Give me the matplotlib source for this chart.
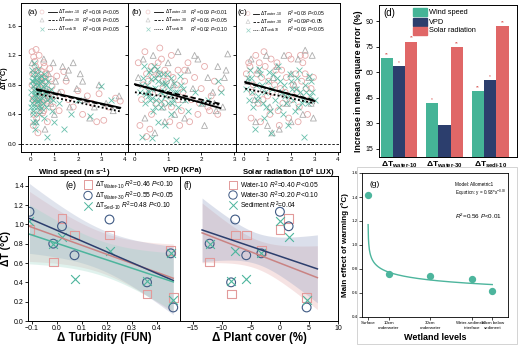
import numpy as np
import matplotlib
matplotlib.use('Agg')
import matplotlib.pyplot as plt
from matplotlib.patches import Rectangle

plt.rcParams['font.family'] = ['Liberation Sans', 'DejaVu Sans']
plt.rcParams['mathtext.fontset'] = 'custom'
plt.rcParams['mathtext.rm'] = 'Liberation Sans'
plt.rcParams['mathtext.it'] = 'Liberation Sans:italic'
plt.rcParams['mathtext.bf'] = 'Liberation Sans:bold'
plt.rcParams['axes.linewidth'] = 0.7

# ---------------- data: panels (a)-(c) scatter ----------------
a_w10_x = [0.05,0.08,0.12,0.15,0.2,0.25,0.3,0.35,0.4,0.45,0.5,0.55,0.6,0.7,0.8,0.9,1.0,1.1,1.2,1.3,1.5,1.6,1.8,2.0,2.2,2.4,2.6,2.9,3.1,3.3,3.6,3.8,0.1,0.3,0.5,0.7,0.22,0.62,1.4,2.8,
           0.05,0.1,0.15,0.2,0.25,0.3,0.35,0.4,0.45,0.5,0.55,0.6,0.65,0.75,0.85,0.95,0.18,0.28,0.38,0.48,0.58,0.68,0.12,0.32]
a_w10_y = [1.25,0.95,1.18,0.62,1.05,0.35,0.88,1.2,0.5,0.98,0.72,1.1,0.85,0.55,1.02,0.78,0.65,0.92,0.45,0.7,0.85,0.6,0.5,0.72,0.4,0.65,0.55,0.68,0.32,0.5,0.62,0.58,0.25,0.15,0.42,0.3,1.28,0.95,0.98,0.3,
           0.8,0.6,0.95,0.75,0.55,1.0,0.65,0.85,0.7,0.9,0.45,0.6,0.95,0.7,0.88,0.5,1.12,0.78,0.62,0.82,1.05,0.58,0.4,0.55]
a_w30_x = [0.05,0.15,0.25,0.35,0.45,0.55,0.65,0.75,0.85,0.95,1.05,1.2,1.35,1.5,1.65,1.8,1.95,2.1,2.3,2.5,2.7,2.9,3.2,3.5,3.75,0.2,0.4,0.6,0.8,1.0,1.6,2.2]
a_w30_y = [1.1,0.8,1.0,0.6,0.9,1.15,0.75,0.95,0.55,1.1,0.85,0.7,1.05,0.9,0.5,1.1,0.75,0.95,0.6,0.35,0.5,0.8,0.55,0.45,0.65,0.3,0.45,0.2,0.65,0.4,1.0,0.85]
a_s10_x = [0.02,0.05,0.08,0.1,0.12,0.15,0.18,0.2,0.22,0.25,0.28,0.3,0.33,0.35,0.4,0.45,0.5,0.55,0.6,0.65,0.7,0.8,0.9,1.0,1.2,1.4,1.7,2.0,2.5,3.0,3.4,0.03,0.07,0.13,0.17,0.24,0.32,0.38,0.42,0.48,0.04,0.09,0.14,0.19,0.27,0.36,0.44,0.52,0.58,0.75,
           0.06,0.11,0.16,0.21,0.26,0.31,0.37,0.43,0.47,0.53,0.57,0.63,0.68,0.72,0.85,0.95,0.02,0.09]
a_s10_y = [0.7,0.55,0.85,0.45,0.9,0.6,0.75,0.3,0.65,0.95,0.5,0.8,0.4,0.7,0.6,0.85,0.55,0.35,0.7,0.5,0.1,0.62,0.45,0.3,0.55,0.2,0.4,0.6,0.38,0.78,0.6,1.0,0.4,1.1,0.2,0.58,1.02,0.52,0.75,0.62,0.62,0.78,0.5,0.68,0.82,0.9,0.48,0.78,0.88,0.72,
           0.85,0.95,0.72,0.88,0.68,0.58,0.82,0.92,0.72,0.66,0.95,0.8,0.6,0.85,0.75,0.6,0.5,0.3]

b_w10_x = [0.1,0.2,0.3,0.4,0.5,0.6,0.7,0.8,0.9,1.0,1.1,1.2,1.3,1.4,1.5,1.6,1.7,1.8,1.9,2.0,2.1,2.2,2.3,2.4,2.5,2.6,0.15,0.45,0.75,1.05,1.35,1.65,1.95,2.25,0.35,0.85,
           0.25,0.35,0.45,0.55,0.65,0.75,0.85,0.95,1.05,1.15,1.25,1.45,0.5,0.7,0.9,1.1,1.3,1.5]
b_w10_y = [1.1,0.6,1.25,0.85,0.4,1.0,0.7,1.15,0.55,0.95,1.2,0.65,1.0,0.45,0.85,1.1,0.6,0.9,0.4,0.75,1.05,0.5,0.65,0.85,0.4,0.75,0.25,0.2,1.3,0.3,0.25,0.3,0.55,0.45,0.1,0.85,
           0.8,0.95,0.7,0.9,0.55,0.95,0.75,0.85,0.65,0.9,0.8,0.7,1.05,1.1,1.0,0.5,0.6,1.0]
b_w30_x = [0.1,0.25,0.4,0.55,0.7,0.85,1.0,1.15,1.3,1.45,1.6,1.75,1.9,2.05,2.2,2.35,2.5,2.65,2.8,0.3,0.6,0.9,1.2,1.5,1.8,2.1,2.4,2.7,2.45,2.75]
b_w30_y = [0.9,1.15,0.7,1.2,0.95,0.5,1.1,0.8,1.25,0.6,1.0,0.75,1.15,0.55,0.9,0.7,1.05,0.5,1.22,0.35,0.15,0.3,0.4,0.35,1.2,0.25,0.55,0.9,0.45,1.0]
b_s10_x = [0.15,0.25,0.3,0.35,0.4,0.45,0.5,0.55,0.6,0.65,0.7,0.75,0.8,0.85,0.9,0.95,1.0,1.05,1.1,1.15,1.2,1.3,1.4,1.5,1.6,1.8,2.0,2.2,2.5,2.6,0.2,0.5,0.7,0.9,1.1,1.25,0.32,0.48,0.62,0.78,0.92,1.08,0.42,0.68,
           0.22,0.38,0.52,0.58,0.72,0.82,0.88,0.98,1.12,1.18,1.28,1.35,1.45,0.28,0.45,0.62]
b_s10_y = [0.7,0.9,0.55,0.8,0.65,1.0,0.75,0.45,0.9,0.6,0.85,0.7,0.5,0.95,0.65,0.8,0.55,0.75,0.9,0.6,0.7,0.5,0.8,0.6,0.45,0.7,0.55,0.6,0.85,0.7,0.1,0.08,0.3,0.25,0.4,0.05,0.68,0.88,0.76,0.58,0.82,0.66,0.98,1.02,
           0.8,0.72,0.62,1.05,0.95,0.82,0.72,0.95,0.55,0.82,0.7,0.92,0.75,1.05,0.6,0.5]

c_w10_x = [0.1,0.2,0.35,0.5,0.6,0.75,0.9,1.0,1.15,1.3,1.45,1.6,1.75,1.9,2.05,2.2,2.35,2.5,2.65,2.8,2.95,0.3,0.7,1.1,1.5,1.9,2.3,2.7,0.25,0.85,1.4,2.0,2.6,
           0.4,0.55,0.8,1.05,1.2,1.35,1.55,1.8,2.1,2.25,2.45,2.6,2.85,0.65,1.65,2.4]
c_w10_y = [0.95,1.1,0.7,1.2,0.55,0.9,1.05,0.65,1.15,0.8,0.45,1.0,0.7,1.2,0.6,0.95,0.5,1.1,0.75,0.6,0.9,0.35,0.3,0.4,0.25,0.35,0.3,0.4,1.05,1.25,1.1,1.15,1.2,
           0.8,0.95,0.6,0.85,0.7,1.0,0.75,0.9,0.8,0.7,0.85,0.95,0.75,1.1,0.55,1.2]
c_w30_x = [0.15,0.3,0.45,0.6,0.8,0.95,1.1,1.25,1.4,1.55,1.7,1.85,2.0,2.15,2.3,2.45,2.6,2.75,2.9,0.5,1.0,1.5,2.0,2.5,2.85,2.95,1.2]
c_w30_y = [0.85,1.15,0.6,1.0,0.75,1.2,0.5,0.9,1.05,0.7,1.2,0.55,0.95,0.8,1.15,0.65,1.27,0.9,1.2,0.3,0.25,0.2,0.3,0.4,0.55,0.35,0.15]
c_s10_x = [0.1,0.2,0.3,0.4,0.5,0.6,0.7,0.8,0.9,1.0,1.1,1.2,1.3,1.4,1.5,1.6,1.7,1.8,1.9,2.0,2.1,2.2,2.3,2.4,2.5,2.6,2.7,2.8,2.9,3.0,0.45,1.15,1.85,2.55,0.25,0.65,1.05,1.45,1.95,2.35,2.75,
           0.15,0.35,0.55,0.75,0.95,1.25,1.55,1.75,2.05,2.25,2.45,2.65,2.85,0.85,1.65,2.15]
c_s10_y = [0.75,0.6,0.9,0.5,0.8,0.65,0.95,0.55,0.7,0.85,0.45,0.75,0.6,0.9,0.5,0.7,0.8,0.55,0.65,0.85,0.6,0.75,0.5,0.7,0.6,0.8,0.55,0.65,0.7,0.6,0.2,0.15,0.25,0.1,1.0,1.02,0.98,1.05,0.95,1.0,0.92,
           0.9,0.7,0.6,0.8,0.5,0.95,0.85,0.65,0.75,0.9,0.55,0.7,0.85,0.35,0.4,0.45]

# fitted lines (slope, intercept) for water-10, water-30, sedi-10 and x-range
a_fit_slope = [-0.0704, -0.0704, -0.0676]
a_fit_icpt = [0.758, 0.748, 0.697]
a_fit_range = [0.25, 3.8]
b_fit_slope = [-0.126, -0.100, -0.066]
b_fit_icpt = [0.81, 0.80, 0.70]
b_fit_range = [0.0, 2.58]
c_fit_slope = [-0.088, -0.081, -0.068]
c_fit_icpt = [0.844, 0.834, 0.753]
c_fit_range = [0.05, 3.0]

a_r2 = ["$R^2$=0.04 $P$<0.05", "$R^2$=0.04 $P$<0.05", "$R^2$=0.04 $P$<0.05"]
b_r2 = ["$R^2$=0.09 $P$<0.01", "$R^2$=0.06 $P$<0.05", "$R^2$=0.02 $P$<0.10"]
c_r2 = ["$R^2$=0.08 $P$<0.05", "$R^2$=0.09$P$<0.05", "$R^2$=0.06 $P$<0.05"]

# ---------------- data: panel (d) ----------------
d_groups = [r"$\mathbf{\Delta T}_{\mathbf{water\text{-}10}}$",
            r"$\mathbf{\Delta T}_{\mathbf{water\text{-}30}}$",
            r"$\mathbf{\Delta T}_{\mathbf{sedi\text{-}10}}$"]
d_wind = [68.5, 42.0, 49.0]
d_vpd = [63.5, 29.0, 55.5]
d_solar = [78.0, 75.0, 87.0]
d_wind_sig = ["**", "*", "**"]
d_vpd_sig = ["*", "", "*"]
d_solar_sig = ["**", "**", "**"]

# ---------------- data: panels (e) and (f) ----------------
turbidity = [-0.11, -0.015, 0.02, 0.07, 0.21, 0.36, 0.455, 0.465]
plant_cover = [0.0, -12.1, 1.5, -5.8, -7.7, -8.4, -3.2, 4.6]
dT_w10 = [0.95, 0.61, 1.06, 0.89, 0.89, 0.28, 0.73, 0.24]
dT_w30 = [1.13, 0.80, 0.98, 0.68, 1.05, 0.40, 0.70, 0.14]
dT_s10 = [1.03, 0.80, 0.87, 0.43, 0.72, 0.41, 0.70, 0.22]
t_crit = 2.447
f_fit_slope = [-0.02335, -0.0203]
f_fit_icpt = [0.599, 0.67]
f_fit_range = [-13.4, 6.45]
f_band_center = [0.15, 0.16]

# ---------------- data: panel (g) ----------------
g_labels = ["Surface", "10cm\nunderwater", "30cm\nunderwater", "Water-sediment\ninterface", "10cm below\nsediment"]
g_depth = [0, 10, 30, 50, 60]
g_effect = [1.42, 0.76, 0.74, 0.72, 0.62]
g_a, g_b = 0.93, -0.08
g_curve_range = [0.057, 60]

# ---------------- colours ----------------
pink = '#e6aaaa'
grey = '#adadad'
teal = '#4db59d'
navy = '#2c3e6d'
red = '#e06767'

W, H = 520, 345
fig = plt.figure(figsize=(5.2, 3.45), dpi=100)


def ax_px(l, t, r, b):
    return fig.add_axes([l / W, 1 - b / H, (r - l) / W, (b - t) / H])


def pxt(ax, dx, dy, wpx, hpx):
    return dx / wpx, 1 - dy / hpx


line_styles = ['-', (0, (3, 1.5)), (0, (1, 1.3))]
mk = ['o', '^', 'x']
mk_col = [pink, grey, teal]
subs = [r"$\Delta$T$_{\mathrm{water}\text{-}10}$", r"$\Delta$T$_{\mathrm{water}\text{-}30}$",
        r"$\Delta$T$_{\mathrm{sedi}\text{-}10}$"]

top_specs = [
    (ax_px(21, 3, 128, 152), 107, (a_w10_x, a_w10_y, a_w30_x, a_w30_y, a_s10_x, a_s10_y),
     a_fit_slope, a_fit_icpt, a_fit_range, a_r2, (-0.42, 4.13), [0, 1, 2, 3, 4], '(a)',
     r"Wind speed (m s$^{\mathbf{-1}}$)", dict(lab=6, mk=21, l0=27, l1=36, t=37, r=61, rows=[9, 17, 26])),
    (ax_px(128, 3, 236, 152), 108, (b_w10_x, b_w10_y, b_w30_x, b_w30_y, b_s10_x, b_s10_y),
     b_fit_slope, b_fit_icpt, b_fit_range, b_r2, (-0.21, 3.05), [0, 1, 2, 3], '(b)',
     "VPD (KPa)", dict(lab=3, mk=20, l0=26, l1=35, t=37, r=62, rows=[9, 17, 26])),
    (ax_px(236, 3, 340, 152), 104, (c_w10_x, c_w10_y, c_w30_x, c_w30_y, c_s10_x, c_s10_y),
     c_fit_slope, c_fit_icpt, c_fit_range, c_r2, (-0.34, 4.08), [0, 1, 2, 3, 4], '(c)',
     r"Solar radiation (10$^{\mathbf{4}}$ LUX)", dict(lab=2, mk=12, l0=17, l1=23, t=24, r=51, rows=[10.5, 18.5, 26.5])),
]

for i, (ax, wpx, pts, sl, ic, rng, r2s, xl, xt, tag, xlabel, lg) in enumerate(top_specs):
    hpx = 149
    for k in range(3):
        xs, ys = pts[2 * k], pts[2 * k + 1]
        if mk[k] == 'x':
            ax.scatter(xs, ys, s=18, marker='x', color=teal, linewidths=0.6, alpha=0.85)
        else:
            ax.scatter(xs, ys, s=18, marker=mk[k], facecolors='none', edgecolors=mk_col[k], linewidths=0.6)
    ax.axhline(0, color='k', ls=(0, (3, 2)), lw=0.6)
    for k in range(3):
        xx = np.linspace(rng[0], rng[1], 20)
        ax.plot(xx, ic[k] + sl[k] * xx, color='k', ls=line_styles[k], lw=1.3)
    ax.set_xlim(*xl)
    ax.set_ylim(-0.11, 1.91)
    ax.set_xticks(xt)
    ax.set_yticks([0, 0.4, 0.8, 1.2, 1.6])
    ax.tick_params(direction='out', length=2.5, width=0.6, labelsize=4.5, pad=1)
    if i == 0:
        ax.set_ylabel("ΔT(°C)", fontsize=5.2, fontweight='bold')
        ax.yaxis.set_label_coords(-13.5 / 107, 0.5)
    else:
        ax.tick_params(labelleft=False)
    ax.set_xlabel(xlabel, fontsize=5.6, fontweight='bold', labelpad=3.5)
    x0, y0 = pxt(ax, lg['lab'], 9, wpx, hpx)
    ax.text(x0, y0, tag, transform=ax.transAxes, fontsize=6, va='center', ha='left')
    for k in range(3):
        dy = lg['rows'][k]
        xm_, ym_ = pxt(ax, lg['mk'], dy, wpx, hpx)
        if mk[k] == 'x':
            ax.scatter([xm_], [ym_], s=8, marker='x', color=teal, linewidths=0.5, transform=ax.transAxes, alpha=0.6)
        else:
            ax.scatter([xm_], [ym_], s=8, marker=mk[k], facecolors='none', edgecolors=mk_col[k],
                       linewidths=0.5, transform=ax.transAxes, alpha=0.6)
        l0, _ = pxt(ax, lg['l0'], dy, wpx, hpx)
        l1, _ = pxt(ax, lg['l1'], dy, wpx, hpx)
        ax.plot([l0, l1], [ym_, ym_], color='k', ls=line_styles[k], lw=0.6, transform=ax.transAxes)
        tx, _ = pxt(ax, lg['t'], dy, wpx, hpx)
        ax.text(tx, ym_, subs[k], transform=ax.transAxes, fontsize=3.6, va='center', ha='left')
        rx, _ = pxt(ax, lg['r'], dy, wpx, hpx)
        ax.text(rx, ym_, r2s[k], transform=ax.transAxes, fontsize=3.6, va='center', ha='left')

# ---------------- panel (d) ----------------
axd = ax_px(379, 5, 517, 157)
bw = 0.27
xg = np.arange(3)
series = [(d_wind, '#45b497', d_wind_sig), (d_vpd, navy, d_vpd_sig), (d_solar, red, d_solar_sig)]
for k, (vals, col, sig) in enumerate(series):
    xs = xg + (k - 1) * bw
    axd.bar(xs, vals, width=bw, color=col, edgecolor='none')
    for xx, v, s in zip(xs, vals, sig):
        if s:
            axd.text(xx, v + 0.6, s, color='#d9534f', fontsize=3.5, ha='center', va='bottom')
axd.set_xlim(-0.44, 2.59)
axd.set_ylim(10.3, 99.4)
axd.set_yticks([15, 30, 45, 60, 75, 90])
axd.set_xticks(xg)
axd.set_xticklabels(d_groups, fontsize=6)
axd.tick_params(axis='x', length=0, pad=2)
axd.tick_params(axis='y', direction='out', length=2.5, width=0.6, labelsize=5, pad=1.5)
axd.set_ylabel("Increase in mean square error (%)", fontsize=6.3, fontweight='bold', labelpad=2)
axd.text(0.03, 0.945, '(d)', transform=axd.transAxes, fontsize=7, va='center')
for k, (lab, col) in enumerate([("Wind speed", '#45b497'), ("VPD", navy), ("Solar radiation", red)]):
    dy = [7, 17, 26][k]
    x0, y0 = pxt(axd, 34, dy, 138, 152)
    axd.add_patch(Rectangle((x0, y0 - 0.028), 14 / 138, 0.056, transform=axd.transAxes, color=col, clip_on=False))
    axd.text(x0 + 16 / 138, y0, lab, transform=axd.transAxes, fontsize=5.3, va='center')

# ---------------- panels (e), (f) ----------------
EB = 321
axe = ax_px(28, 176, 180, EB)
axf = ax_px(180, 176, 338, EB)
EH = EB - 176
e_cols = [('#c98383', '#e7b0b0'), (navy, '#9aa6c6'), (teal, '#9bd6c6')]
ys_all = [dT_w10, dT_w30, dT_s10]
tx = np.array(turbidity)
xx = np.linspace(tx.min(), tx.max(), 60)
n = len(tx)
for k in range(3):
    y = np.array(ys_all[k])
    b1, b0 = np.polyfit(tx, y, 1)
    res = y - (b0 + b1 * tx)
    s = np.sqrt(np.sum(res ** 2) / (n - 2))
    sxx = np.sum((tx - tx.mean()) ** 2)
    hw = t_crit * s * np.sqrt(1 / n + (xx - tx.mean()) ** 2 / sxx)
    yy = b0 + b1 * xx
    axe.fill_between(xx, yy - hw, yy + hw, color=e_cols[k][1], alpha=0.3, lw=0)
for k in range(3):
    y = np.array(ys_all[k])
    b1, b0 = np.polyfit(tx, y, 1)
    axe.plot(xx, b0 + b1 * xx, color=e_cols[k][0], lw=1.1)

pc = np.array(plant_cover)
xf = np.linspace(f_fit_range[0], f_fit_range[1], 60)
sxx_f = np.sum((pc - pc.mean()) ** 2)
for k in range(2):
    yy = f_fit_icpt[k] + f_fit_slope[k] * xf
    hw = f_band_center[k] * np.sqrt(1 + n * (xf - pc.mean()) ** 2 / sxx_f)
    axf.fill_between(xf, yy - hw, yy + hw, color=e_cols[k][1], alpha=0.35, lw=0)
for k in range(2):
    axf.plot(xf, f_fit_icpt[k] + f_fit_slope[k] * xf, color=e_cols[k][0], lw=1.1)

for ax, xv in ((axe, turbidity), (axf, plant_cover)):
    ax.scatter(xv, dT_w10, s=40, marker='s', facecolors='none', edgecolors='#e29a9a', linewidths=0.8)
    ax.scatter(xv, dT_w30, s=40, marker='o', facecolors='none', edgecolors='#3f5a84', linewidths=0.8)
    ax.scatter(xv, dT_s10, s=40, marker='x', color=teal, linewidths=0.8)
    ax.set_ylim(0, 1.5)
    ax.tick_params(direction='out', length=2, width=0.6, labelsize=5, pad=1)

axe.set_xlim(-0.116, 0.492)
axe.set_xticks([-0.1, 0.0, 0.1, 0.2, 0.3, 0.4])
axe.set_yticks([0.0, 0.2, 0.4, 0.6, 0.8, 1.0, 1.2, 1.4])
axe.set_ylabel("ΔT (°C)", fontsize=7.5, fontweight='bold', labelpad=2)
axf.set_xlim(-17.2, 10)
axf.set_xticks([-15, -10, -5, 0, 5, 10])
axf.tick_params(left=False, labelleft=False)
for ax, lab in ((axe, "Δ Turbidity (FUN)"), (axf, "Δ Plant cover (%)")):
    ax.set_xlabel(lab, fontsize=8.3, fontweight='bold')
    ax.xaxis.set_label_coords(0.5, -(338 - EB) / EH)
    ax.xaxis.label.set_va('center')

e_leg = [r"$\Delta$T$_{\mathrm{Water}\text{-}10}$ $R^2$=0.46 $P$<0.10",
         r"$\Delta$T$_{\mathrm{Water}\text{-}30}$ $R^2$=0.55 $P$<0.05",
         r"$\Delta$T$_{\mathrm{Sedi}\text{-}10}$ $R^2$=0.48 $P$<0.10"]
f_leg = [r"Water-10 $R^2$=0.40 $P$<0.05", r"Water-30 $R^2$=0.20 $P$<0.10", r"Sediment $R^2$=0.04"]
leg_mk = [('s', '#e29a9a'), ('o', '#3f5a84'), ('x', teal)]
for ax, wpx, mkx, txx, rows, labs, tag, tagx in ((axe, 152, 60, 67, [8.5, 19.5, 30], e_leg, '(e)', 37),
                                               (axf, 158, 53, 60, [9, 19, 29], f_leg, '(f)', 4)):
    x0, y0 = pxt(ax, tagx, 10, wpx, EH)
    ax.text(x0, y0, tag, transform=ax.transAxes, fontsize=6.5, va='center')
    for k in range(3):
        xm_, ym_ = pxt(ax, mkx, rows[k], wpx, EH)
        m, c = leg_mk[k]
        if m == 'x':
            ax.scatter([xm_], [ym_], s=36, marker='x', color=c, linewidths=0.7, transform=ax.transAxes)
        else:
            ax.scatter([xm_], [ym_], s=36, marker=m, facecolors='none', edgecolors=c, linewidths=0.7,
                       transform=ax.transAxes)
        tx_, _ = pxt(ax, txx, rows[k], wpx, EH)
        ax.text(tx_, ym_, labs[k], transform=ax.transAxes, fontsize=4.8, va='center')

# ---------------- panel (g) ----------------
fig.add_artist(Rectangle((357 / W, 1 / H), 160 / W, 177 / H, transform=fig.transFigure,
                         fill=False, edgecolor='#cccccc', lw=0.6))
axg = ax_px(362, 173, 508, 317)
xc = np.linspace(g_curve_range[0], g_curve_range[1], 400)
axg.plot(xc, g_a * xc ** g_b, color=teal, lw=1.0)
axg.scatter(g_depth, g_effect, s=18, color=teal, zorder=3)
axg.set_xlim(-2.9, 67.6)
axg.set_ylim(0.4, 1.6)
axg.set_xticks(g_depth)
axg.set_xticklabels(g_labels, fontsize=2.6)
axg.set_yticks([0.4, 0.6, 0.8, 1.0, 1.2, 1.4, 1.6])
axg.tick_params(direction='out', length=2, width=0.5, labelsize=3.2, pad=1)
for sp in axg.spines.values():
    sp.set_linewidth(0.6)
axg.set_ylabel("Main effect of warming (°C)", fontsize=5.8, fontweight='bold', labelpad=2)
axg.set_xlabel("Wetland levels", fontsize=6.5, fontweight='bold', labelpad=2)
axg.text(0.05, 0.92, '(g)', transform=axg.transAxes, fontsize=6, va='center')
axg.text(0.64, 0.92, 'Model: Allometric1', transform=axg.transAxes, fontsize=3.3, va='center')
axg.text(0.64, 0.86, r'Equation: y = 0.93*x$^{-0.08}$', transform=axg.transAxes, fontsize=3.3, va='center')
axg.text(0.64, 0.70, r'$R^2$=0.56 $P$<0.01', transform=axg.transAxes, fontsize=4.5, va='center')

fig.savefig('out.png', dpi=100)
